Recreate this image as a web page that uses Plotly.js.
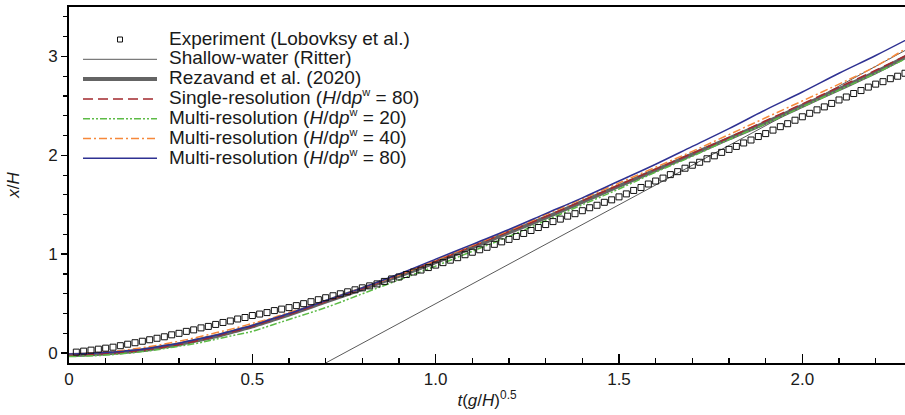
<!DOCTYPE html>
<html>
<head>
<meta charset="utf-8">
<script src="https://cdn.plot.ly/plotly-3.0.1.min.js"></script>
<style>
  html, body { margin: 0; padding: 0; background: #fff; }
  #chart { width: 905px; height: 415px; }
</style>
</head>
<body>
<div id="chart"></div>
<script>
// Dam-break wave front position: experiment, Ritter solution and SPH runs.

// Experiment (Lobovsky et al.)
const expT = [0.02,0.04,0.06,0.08,0.10,0.12,0.14,0.16,0.18,0.20,0.22,0.24,0.26,0.28,0.30,0.32,0.34,0.36,0.38,0.40,
  0.42,0.44,0.46,0.48,0.50,0.52,0.54,0.56,0.58,0.60,0.62,0.64,0.66,0.68,0.70,0.72,0.74,0.76,0.78,0.80,
  0.82,0.84,0.86,0.88,0.90,0.92,0.94,0.96,0.98,1.00,1.02,1.04,1.06,1.08,1.10,1.12,1.14,1.16,1.18,1.20,
  1.22,1.24,1.26,1.28,1.30,1.32,1.34,1.36,1.38,1.40,1.42,1.44,1.46,1.48,1.50,1.52,1.54,1.56,1.58,1.60,
  1.62,1.64,1.66,1.68,1.70,1.72,1.74,1.76,1.78,1.80,1.82,1.84,1.86,1.88,1.90,1.92,1.94,1.96,1.98,2.00,
  2.02,2.04,2.06,2.08,2.10,2.12,2.14,2.16,2.18,2.20,2.22,2.24,2.26,2.28];
const expY = [0.01,0.02,0.03,0.04,0.05,0.06,0.075,0.09,0.105,0.12,0.135,0.15,0.165,0.185,0.20,0.22,0.235,0.255,0.27,0.29,
  0.31,0.325,0.345,0.36,0.38,0.395,0.41,0.43,0.445,0.46,0.48,0.50,0.52,0.54,0.56,0.58,0.60,0.62,0.64,0.66,
  0.68,0.70,0.725,0.75,0.77,0.795,0.82,0.84,0.865,0.89,0.915,0.94,0.965,0.995,1.02,1.045,1.07,1.10,1.125,1.15,
  1.18,1.21,1.24,1.27,1.30,1.33,1.355,1.385,1.41,1.44,1.47,1.495,1.525,1.55,1.58,1.61,1.645,1.675,1.71,1.74,
  1.77,1.805,1.835,1.87,1.90,1.93,1.965,1.995,2.03,2.06,2.09,2.125,2.155,2.19,2.22,2.255,2.29,2.32,2.355,2.39,
  2.425,2.46,2.49,2.525,2.56,2.59,2.625,2.655,2.69,2.72,2.745,2.775,2.80,2.83];

// Shallow-water (Ritter) front
const ritterT = [0.70, 2.30];
const ritterY = [-0.10, 3.10];

// SPH results, sampled on a common time axis
const simT = [0,0.05,0.10,0.15,0.20,0.25,0.30,0.35,0.40,0.45,0.50,0.55,0.60,0.70,0.80,0.90,1.00,
  1.10,1.20,1.30,1.40,1.50,1.60,1.70,1.80,1.90,2.00,2.10,2.20,2.30];
const rezavandY = [-0.02,-0.015,-0.005,0.01,0.03,0.06,0.09,0.13,0.17,0.22,0.27,0.33,0.39,0.52,0.65,0.78,0.92,
  1.07,1.22,1.37,1.53,1.69,1.85,2.01,2.17,2.33,2.50,2.67,2.84,3.03];
const single80Y = [-0.02,-0.015,-0.005,0.008,0.027,0.055,0.085,0.125,0.17,0.22,0.27,0.33,0.39,0.52,0.65,0.79,0.93,
  1.08,1.23,1.38,1.54,1.70,1.86,2.02,2.18,2.35,2.52,2.69,2.86,3.04];
const multi20Y = [-0.035,-0.03,-0.02,-0.005,0.015,0.04,0.07,0.10,0.14,0.18,0.22,0.28,0.34,0.46,0.60,0.74,0.88,
  1.03,1.18,1.34,1.50,1.66,1.83,1.99,2.16,2.32,2.49,2.66,2.83,3.01];
const multi40Y = [-0.01,0,0.01,0.03,0.055,0.085,0.12,0.16,0.205,0.25,0.30,0.35,0.41,0.53,0.66,0.79,0.94,
  1.09,1.24,1.40,1.56,1.72,1.88,2.04,2.21,2.38,2.55,2.72,2.90,3.12];
const multi80Y = [-0.01,-0.005,0.005,0.02,0.04,0.07,0.10,0.14,0.18,0.23,0.28,0.34,0.40,0.53,0.66,0.80,0.95,
  1.10,1.25,1.41,1.57,1.74,1.91,2.09,2.27,2.46,2.64,2.83,3.01,3.20];

// Axis settings
const xRange = [0, 2.28];
const yRange = [-0.1, 3.5];
const xLabelAlias = {'1': '1.0', '2': '2.0'};

// Legend entries
const resLabel = '(<i>H</i>/d<i>p</i><sup><span style="font-size:11px">w</span></sup> = ';
const legendLabels = [
  'Experiment (Lobovksy et al.)',
  'Shallow-water (Ritter)',
  'Rezavand et al. (2020)',
  'Single-resolution ' + resLabel + '80)',
  'Multi-resolution ' + resLabel + '20)',
  'Multi-resolution ' + resLabel + '40)',
  'Multi-resolution ' + resLabel + '80)'
];

const FONT = 'Liberation Sans, Arial, Helvetica, sans-serif';
const TXT = '#1a1a1a';

const styles = {
  ritter:  {color: '#5a5a5a', width: 1},
  rez:     {color: '#646464', width: 4},
  single:  {color: '#a3282e', width: 1.5, dash: '10px,5px'},
  m20:     {color: '#5dbb46', width: 1.5, dash: '7px,2px,2px,2px,2px,2px'},
  m40:     {color: '#f6883a', width: 1.5, dash: '8px,3px,2px,3px'},
  m80:     {color: '#2e3192', width: 1.5}
};

const traces = [
  {x: ritterT, y: ritterY, mode: 'lines', line: styles.ritter},
  {x: simT, y: rezavandY, mode: 'lines', line: Object.assign({shape: 'spline'}, styles.rez)},
  {x: simT, y: single80Y, mode: 'lines', line: Object.assign({shape: 'spline'}, styles.single)},
  {x: simT, y: multi20Y, mode: 'lines', line: Object.assign({shape: 'spline'}, styles.m20)},
  {x: simT, y: multi40Y, mode: 'lines', line: Object.assign({shape: 'spline'}, styles.m40)},
  {x: simT, y: multi80Y, mode: 'lines', line: Object.assign({shape: 'spline'}, styles.m80)},
  {x: expT, y: expY, mode: 'markers',
   marker: {symbol: 'square-open', size: 6, color: '#111', line: {width: 1, color: '#111'}}}
].map(t => Object.assign({showlegend: false, hoverinfo: 'skip', type: 'scatter'}, t));

// Hand-placed legend (tight row spacing), positioned in pixels of the plot area
const M = {l: 69, r: 0, t: 7, b: 52};
const W = 905, H = 415;
const plotW = W - M.l - M.r, plotH = H - M.t - M.b;
const px2x = px => (px - M.l) / plotW;
const px2y = py => (H - M.b - py) / plotH;

const rowY0 = 39.5, rowStep = 19.8;
const sampleX0 = 83, sampleX1 = 157, textX = 167;
const sampleStyles = [null, styles.ritter, styles.rez, styles.single, styles.m20, styles.m40, styles.m80];

const shapes = [];
const annotations = [];
legendLabels.forEach((lab, i) => {
  const yc = rowY0 + rowStep * i;
  if (i === 0) {
    shapes.push({type: 'rect', xref: 'paper', yref: 'paper',
      xsizemode: 'pixel', ysizemode: 'pixel',
      xanchor: px2x(120), yanchor: px2y(yc),
      x0: -2.5, x1: 2.5, y0: -2.5, y1: 2.5,
      line: {color: '#111', width: 1}, fillcolor: 'rgba(0,0,0,0)'});
  } else {
    const st = sampleStyles[i];
    shapes.push({type: 'line', xref: 'paper', yref: 'paper',
      x0: px2x(sampleX0), x1: px2x(sampleX1), y0: px2y(yc), y1: px2y(yc),
      line: {color: st.color, width: st.width, dash: st.dash || 'solid'}});
  }
  annotations.push({xref: 'paper', yref: 'paper', x: px2x(textX), y: px2y(yc - 1.5),
    xanchor: 'left', yanchor: 'middle', showarrow: false, text: lab,
    font: {family: FONT, size: 19, color: TXT}});
});

const layout = {
  width: W, height: H,
  margin: M,
  paper_bgcolor: '#fff', plot_bgcolor: '#fff',
  showlegend: false,
  font: {family: FONT, color: TXT},
  xaxis: {
    range: xRange, tick0: 0, dtick: 0.5, labelalias: xLabelAlias,
    ticks: 'inside', ticklen: 9, tickwidth: 1.5, tickcolor: '#000',
    minor: {dtick: 0.1, tick0: 0, ticks: 'inside', ticklen: 5, tickwidth: 1.2, tickcolor: '#000', showgrid: false},
    showline: true, linecolor: '#000', linewidth: 2, mirror: true,
    showgrid: false, zeroline: false,
    tickfont: {family: FONT, size: 17, color: TXT},
    title: {text: '<i>t</i>(<i>g</i>/<i>H</i>)<sup>0.5</sup>', font: {family: FONT, size: 17, color: TXT}, standoff: 6}
  },
  yaxis: {
    range: yRange, tick0: 0, dtick: 1,
    ticks: 'outside', ticklen: 6, tickwidth: 1.5, tickcolor: '#000',
    minor: {dtick: 0.2, tick0: 0, ticks: 'outside', ticklen: 4, tickwidth: 1.2, tickcolor: '#000', showgrid: false},
    showline: true, linecolor: '#000', linewidth: 2, mirror: false,
    showgrid: false, zeroline: false,
    tickfont: {family: FONT, size: 17, color: TXT},
    title: {text: '<i>x</i>/<i>H</i>', font: {family: FONT, size: 17, color: TXT}, standoff: 24}
  },
  shapes: shapes,
  annotations: annotations
};

Plotly.newPlot('chart', traces, layout, {staticPlot: true, displayModeBar: false});
</script>
</body>
</html>
